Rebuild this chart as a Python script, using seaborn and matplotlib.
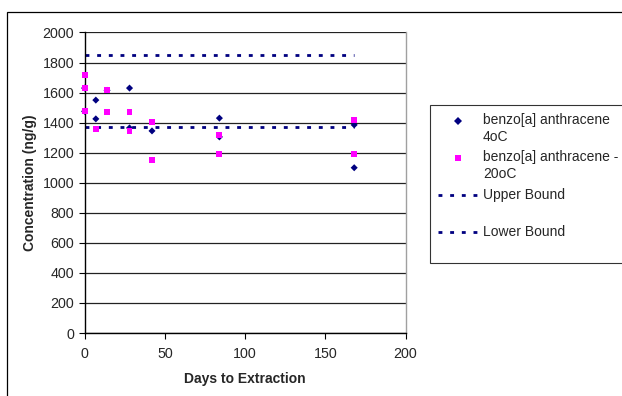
import seaborn as sns
import matplotlib.pyplot as plt
import matplotlib.patches as patches
import pandas as pd

# days / concentrations
days_4c = [0, 0, 7, 7, 14, 28, 28, 42, 84, 84, 168, 168]
conc_4c = [1630, 1475, 1550, 1425, 1615, 1630, 1365, 1345, 1430, 1305, 1385, 1100]

days_m20c = [0, 0, 0, 7, 14, 14, 28, 28, 42, 42, 84, 84, 168, 168]
conc_m20c = [1715, 1630, 1475, 1360, 1615, 1470, 1470, 1345, 1405, 1150, 1315, 1190, 1415, 1190]

bound_days = [0, 168]
upper_bound = [1850, 1850]
lower_bound = [1370, 1370]

label_4c = 'benzo[a] anthracene\n4oC'
label_m20c = 'benzo[a] anthracene -\n20oC'

df = pd.concat([
    pd.DataFrame({'days': days_4c, 'conc': conc_4c, 'series': label_4c}),
    pd.DataFrame({'days': days_m20c, 'conc': conc_m20c, 'series': label_m20c}),
])

sns.set_style('white')
plt.rcParams['font.family'] = ['Liberation Sans', 'DejaVu Sans']
plt.rcParams['font.size'] = 10

fig = plt.figure(figsize=(6.22, 3.96), dpi=100)
ax = fig.add_axes([0.136, 0.159, 0.516, 0.759])

navy = '#000080'
magenta = '#FF00FF'
dots = (0, (1.4, 2.8))

sns.lineplot(x=bound_days, y=upper_bound, ax=ax, color=navy, lw=2,
             linestyle=dots, label='Upper Bound', zorder=2)
sns.lineplot(x=bound_days, y=lower_bound, ax=ax, color=navy, lw=2,
             linestyle=dots, label='Lower Bound', zorder=2)
sns.scatterplot(data=df, x='days', y='conc', hue='series', style='series',
                size='series',
                palette={label_4c: navy, label_m20c: magenta},
                markers={label_4c: 'D', label_m20c: 's'},
                sizes={label_4c: 13, label_m20c: 18},
                linewidth=0, ax=ax, zorder=3, clip_on=False)

ax.set_xlim(0, 200)
ax.set_ylim(0, 2000)
ax.set_xticks(range(0, 201, 50))
ax.set_yticks(range(0, 2001, 200))
ax.yaxis.grid(True, color='#222222', lw=0.9)
ax.set_axisbelow(True)
ax.tick_params(axis='both', direction='out', length=4, width=0.8,
               color='black', labelsize=10.3, bottom=True, left=True)
ax.tick_params(axis='x', pad=6)
for side in ['left', 'bottom']:
    ax.spines[side].set_color('black')
    ax.spines[side].set_linewidth(1.0)
ax.spines['top'].set_visible(False)
ax.spines['right'].set_color('#a0a0a0')
ax.spines['right'].set_linewidth(1.0)

ax.set_xlabel('Days to Extraction', fontweight='bold', fontsize=10, labelpad=8)
ax.set_ylabel('Concentration (ng/g)', fontweight='bold', fontsize=10, labelpad=4)

# legend in Excel order
handles, labels = ax.get_legend_handles_labels()
lookup = dict(zip(labels, handles))
new_handles = [lookup[label_4c], lookup[label_m20c],
               lookup['Upper Bound'], lookup['Lower Bound']]
new_labels = [label_4c, label_m20c, 'Upper Bound\n', 'Lower Bound\n']
leg = ax.legend(new_handles, new_labels, loc='upper left',
                bbox_to_anchor=(430 / 622, 1 - 105 / 396),
                bbox_transform=fig.transFigure, frameon=True, fancybox=False,
                edgecolor='black', fontsize=10, handlelength=2.9,
                handletextpad=0.3, labelspacing=0.5, borderpad=0.6,
                borderaxespad=0)
leg.get_frame().set_linewidth(0.8)

# Excel puts the legend key next to the first text line
shift = 6.0
for h in leg.legend_handles:
    if hasattr(h, 'get_ydata'):
        h.set_ydata([y + shift for y in h.get_ydata()])
    else:
        offs = h.get_offsets()
        offs[:, 1] += shift
        h.set_offsets(offs)

# outer chart border
fig.patches.append(patches.Rectangle((7 / 622, -0.02), 1.0, 0.995 - 10 / 396 + 0.02,
                                     transform=fig.transFigure, fill=False,
                                     edgecolor='black', lw=0.9))

fig.savefig('out.png', dpi=100)
